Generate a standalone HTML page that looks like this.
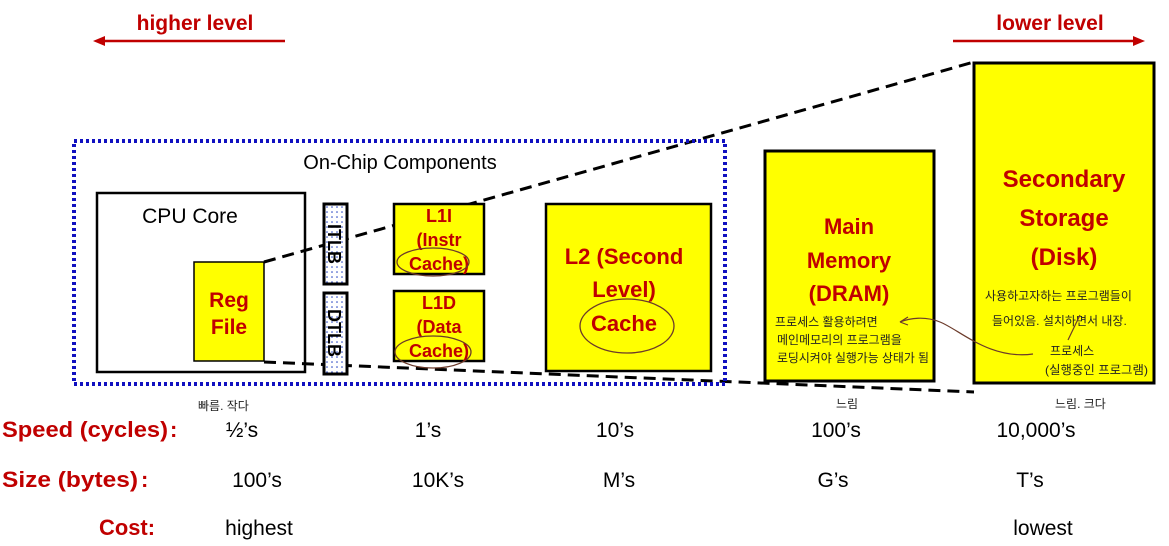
<!DOCTYPE html>
<html><head><meta charset="utf-8"><style>
html,body{margin:0;padding:0;background:#fff;}
svg{display:block;}
.r{font-family:"Liberation Sans",sans-serif;font-weight:bold;fill:#c00000;}
.n{font-family:"Liberation Sans",sans-serif;fill:#000;}
.k{font-family:"Liberation Sans","Noto Sans CJK KR",sans-serif;fill:#222;font-size:12px;}
</style></head><body>
<svg width="1169" height="546" viewBox="0 0 1169 546" xmlns="http://www.w3.org/2000/svg">
<defs>
<pattern id="dots" width="5" height="5" patternUnits="userSpaceOnUse"><rect width="5" height="5" fill="#fff"/><circle cx="2" cy="2" r="0.8" fill="#2040c0"/></pattern>
</defs>
<text x="195" y="30" class="r" font-size="21" text-anchor="middle">higher level</text>
<line x1="100" y1="41" x2="285" y2="41" stroke="#c00000" stroke-width="2.5"/>
<polygon points="93,41 105,36 105,46" fill="#c00000"/>
<text x="1050" y="30" class="r" font-size="21" text-anchor="middle">lower level</text>
<line x1="953" y1="41" x2="1137" y2="41" stroke="#c00000" stroke-width="2.5"/>
<polygon points="1145,41 1133,36 1133,46" fill="#c00000"/>
<rect x="97" y="193" width="208" height="179" fill="#fff" stroke="#000" stroke-width="2.5"/>
<text x="190" y="223" class="n" font-size="21" text-anchor="middle">CPU Core</text>
<line x1="264" y1="262" x2="974" y2="62" stroke="#000" stroke-width="3" stroke-dasharray="12,7"/>
<line x1="264" y1="362" x2="974" y2="392" stroke="#000" stroke-width="3" stroke-dasharray="12,7"/>
<rect x="74" y="141" width="651" height="243" fill="none" stroke="#1010c0" stroke-width="4" stroke-dasharray="3,3"/>
<text x="400" y="169" class="n" font-size="20" text-anchor="middle">On-Chip Components</text>
<rect x="194" y="262" width="70" height="99" fill="#ffff00" stroke="#000" stroke-width="1.5"/>
<text x="229" y="307" class="r" font-size="21" text-anchor="middle">Reg</text>
<text x="229" y="334" class="r" font-size="21" text-anchor="middle">File</text>
<rect x="324" y="204" width="23" height="80" fill="url(#dots)" stroke="#000" stroke-width="3"/>
<text transform="translate(328,244) rotate(90)" class="n" font-size="18" font-weight="bold" text-anchor="middle">ITLB</text>
<rect x="324" y="293" width="23" height="81" fill="url(#dots)" stroke="#000" stroke-width="3"/>
<text transform="translate(328,333) rotate(90)" class="n" font-size="18" font-weight="bold" text-anchor="middle">DTLB</text>
<rect x="394" y="204" width="90" height="70" fill="#ffff00" stroke="#000" stroke-width="2.5"/>
<text x="439" y="222" class="r" font-size="18" text-anchor="middle">L1I</text>
<text x="439" y="246" class="r" font-size="18" text-anchor="middle">(Instr</text>
<text x="439" y="270" class="r" font-size="18" text-anchor="middle">Cache)</text>
<rect x="394" y="291" width="90" height="70" fill="#ffff00" stroke="#000" stroke-width="2.5"/>
<text x="439" y="309" class="r" font-size="18" text-anchor="middle">L1D</text>
<text x="439" y="333" class="r" font-size="18" text-anchor="middle">(Data</text>
<text x="439" y="357" class="r" font-size="18" text-anchor="middle">Cache)</text>
<ellipse cx="433" cy="262" rx="36" ry="14" fill="none" stroke="#6b3a2a" stroke-width="1.3"/>
<ellipse cx="433" cy="352" rx="38" ry="16" fill="none" stroke="#6b3a2a" stroke-width="1.3"/>
<rect x="546" y="204" width="165" height="167" fill="#ffff00" stroke="#000" stroke-width="2.5"/>
<text x="624" y="264" class="r" font-size="22" text-anchor="middle">L2 (Second</text>
<text x="624" y="297" class="r" font-size="22" text-anchor="middle">Level)</text>
<text x="624" y="331" class="r" font-size="22" text-anchor="middle">Cache</text>
<ellipse cx="627" cy="326" rx="47" ry="27" fill="none" stroke="#6b3a2a" stroke-width="1.3"/>
<rect x="765" y="151" width="169" height="230" fill="#ffff00" stroke="#000" stroke-width="3"/>
<text x="849" y="234" class="r" font-size="22" text-anchor="middle">Main</text>
<text x="849" y="268" class="r" font-size="22" text-anchor="middle">Memory</text>
<text x="849" y="301" class="r" font-size="22" text-anchor="middle">(DRAM)</text>
<text x="775" y="326" class="k" font-size="11.5">프로세스 활용하려면</text>
<text x="777" y="344" class="k" font-size="11.5">메인메모리의 프로그램을</text>
<text x="777" y="362" class="k" font-size="11.5" textLength="152" lengthAdjust="spacingAndGlyphs">로딩시켜야 실행가능 상태가 됨</text>
<rect x="974" y="63" width="180" height="320" fill="#ffff00" stroke="#000" stroke-width="3"/>
<text x="1064" y="187" class="r" font-size="24" text-anchor="middle">Secondary</text>
<text x="1064" y="226" class="r" font-size="24" text-anchor="middle">Storage</text>
<text x="1064" y="265" class="r" font-size="24" text-anchor="middle">(Disk)</text>
<text x="985" y="300" class="k">사용하고자하는 프로그램들이</text>
<text x="992" y="325" class="k">들어있음. 설치하면서 내장.</text>
<text x="1050" y="355" class="k">프로세스</text>
<text x="1045" y="374" class="k" textLength="103" lengthAdjust="spacingAndGlyphs">(실행중인 프로그램)</text>
<path d="M1033,354 C990,360 960,330 940,322 C925,316 910,318 900,322" fill="none" stroke="#6b3a2a" stroke-width="1.2"/>
<path d="M900,322 l8,-5 M900,322 l8,3" stroke="#6b3a2a" stroke-width="1.2"/>
<path d="M1080,315 L1068,340" stroke="#6b3a2a" stroke-width="1.2"/>
<text x="198" y="410" class="k" font-size="14">빠름. 작다</text>
<text x="836" y="408" class="k" font-size="14">느림</text>
<text x="1055" y="408" class="k" font-size="14">느림. 크다</text>
<text x="2" y="437" class="r" font-size="22" textLength="166" lengthAdjust="spacingAndGlyphs">Speed (cycles)</text>
<text x="170" y="437" class="r" font-size="22">:</text>
<text x="242" y="437" class="n" font-size="21" text-anchor="middle">½’s</text>
<text x="428" y="437" class="n" font-size="21" text-anchor="middle">1’s</text>
<text x="615" y="437" class="n" font-size="21" text-anchor="middle">10’s</text>
<text x="836" y="437" class="n" font-size="21" text-anchor="middle">100’s</text>
<text x="1036" y="437" class="n" font-size="21" text-anchor="middle">10,000’s</text>
<text x="2" y="487" class="r" font-size="22" textLength="136" lengthAdjust="spacingAndGlyphs">Size (bytes)</text>
<text x="141" y="487" class="r" font-size="22">:</text>
<text x="257" y="487" class="n" font-size="21" text-anchor="middle">100’s</text>
<text x="438" y="487" class="n" font-size="21" text-anchor="middle">10K’s</text>
<text x="619" y="487" class="n" font-size="21" text-anchor="middle">M’s</text>
<text x="833" y="487" class="n" font-size="21" text-anchor="middle">G’s</text>
<text x="1030" y="487" class="n" font-size="21" text-anchor="middle">T’s</text>
<text x="99" y="535" class="r" font-size="22" textLength="56" lengthAdjust="spacingAndGlyphs">Cost:</text>
<text x="259" y="535" class="n" font-size="21" text-anchor="middle">highest</text>
<text x="1043" y="535" class="n" font-size="21" text-anchor="middle">lowest</text>
</svg>
</body></html>
